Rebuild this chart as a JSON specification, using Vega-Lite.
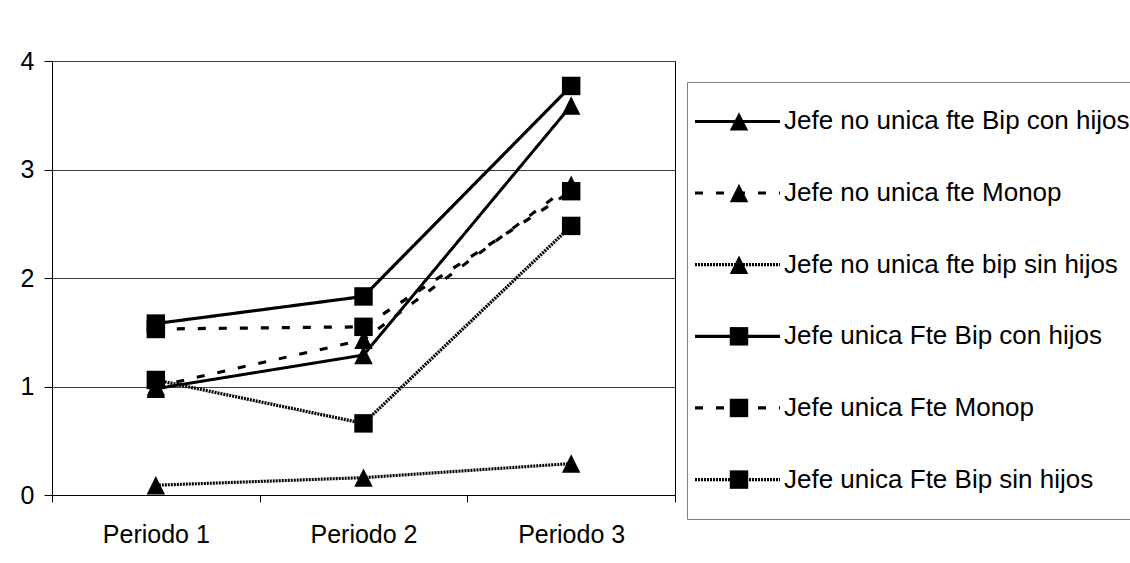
{
  "$schema": "https://vega.github.io/schema/vega-lite/v6.json",
  "padding": {"left": 19, "top": 48, "right": 0, "bottom": 0},
  "background": "white",
  "spacing": 10,
  "config": {
    "font": "Liberation Sans",
    "view": {"stroke": null},
    "axis": {"labelFont": "Liberation Sans", "labelFontSize": 25, "labelColor": "black", "domainColor": "black", "tickColor": "black", "gridColor": "#404040", "gridOpacity": 1, "title": null}
  },
  "datasets": {
    "main": [
      {"period": "Periodo 1", "series": "Jefe no unica fte Bip con hijos", "value": 0.98},
      {"period": "Periodo 2", "series": "Jefe no unica fte Bip con hijos", "value": 1.29},
      {"period": "Periodo 3", "series": "Jefe no unica fte Bip con hijos", "value": 3.59},
      {"period": "Periodo 1", "series": "Jefe no unica fte Monop", "value": 1.0},
      {"period": "Periodo 2", "series": "Jefe no unica fte Monop", "value": 1.43},
      {"period": "Periodo 3", "series": "Jefe no unica fte Monop", "value": 2.86},
      {"period": "Periodo 1", "series": "Jefe no unica fte bip sin hijos", "value": 0.09},
      {"period": "Periodo 2", "series": "Jefe no unica fte bip sin hijos", "value": 0.16},
      {"period": "Periodo 3", "series": "Jefe no unica fte bip sin hijos", "value": 0.29},
      {"period": "Periodo 1", "series": "Jefe unica Fte Bip con hijos", "value": 1.58},
      {"period": "Periodo 2", "series": "Jefe unica Fte Bip con hijos", "value": 1.83},
      {"period": "Periodo 3", "series": "Jefe unica Fte Bip con hijos", "value": 3.77},
      {"period": "Periodo 1", "series": "Jefe unica Fte Monop", "value": 1.53},
      {"period": "Periodo 2", "series": "Jefe unica Fte Monop", "value": 1.55},
      {"period": "Periodo 3", "series": "Jefe unica Fte Monop", "value": 2.8},
      {"period": "Periodo 1", "series": "Jefe unica Fte Bip sin hijos", "value": 1.06},
      {"period": "Periodo 2", "series": "Jefe unica Fte Bip sin hijos", "value": 0.66},
      {"period": "Periodo 3", "series": "Jefe unica Fte Bip sin hijos", "value": 2.48}
    ],
    "legend": [
      {"series": "Jefe no unica fte Bip con hijos"},
      {"series": "Jefe no unica fte Monop"},
      {"series": "Jefe no unica fte bip sin hijos"},
      {"series": "Jefe unica Fte Bip con hijos"},
      {"series": "Jefe unica Fte Monop"},
      {"series": "Jefe unica Fte Bip sin hijos"}
    ],
    "empty": []
  },
  "hconcat": [
    {
      "width": 623,
      "height": 434,
      "view": {"stroke": "black"},
      "data": {"name": "main"},
      "encoding": {
        "x": {"field": "period", "type": "nominal", "scale": {"type": "band", "paddingInner": 0, "paddingOuter": 0}, "axis": {"labelAngle": 0, "tickBand": "extent", "tickSize": 7, "labelPadding": 20, "grid": false, "title": null}},
        "y": {"field": "value", "type": "quantitative", "scale": {"domain": [0, 4], "nice": false}, "axis": {"values": [0, 1, 2, 3, 4], "tickSize": 8, "labelPadding": 10, "grid": true, "title": null}}
      },
      "layer": [
        {
          "mark": {"type": "line", "color": "black"},
          "encoding": {
            "strokeDash": {"field": "series", "type": "nominal", "scale": {"domain": ["Jefe no unica fte Bip con hijos", "Jefe no unica fte Monop", "Jefe no unica fte bip sin hijos", "Jefe unica Fte Bip con hijos", "Jefe unica Fte Monop", "Jefe unica Fte Bip sin hijos"], "range": [[1, 0], [8, 13], [2, 1], [1, 0], [8, 13], [2, 1]]}, "legend": null},
            "strokeWidth": {"field": "series", "type": "nominal", "scale": {"domain": ["Jefe no unica fte Bip con hijos", "Jefe no unica fte Monop", "Jefe no unica fte bip sin hijos", "Jefe unica Fte Bip con hijos", "Jefe unica Fte Monop", "Jefe unica Fte Bip sin hijos"], "range": [3, 3.3, 2.8, 3, 3.3, 2.8]}, "legend": null}
          }
        },
        {
          "mark": {"type": "point", "filled": true, "color": "black", "opacity": 1},
          "encoding": {
            "shape": {"field": "series", "type": "nominal", "scale": {"domain": ["Jefe no unica fte Bip con hijos", "Jefe no unica fte Monop", "Jefe no unica fte bip sin hijos", "Jefe unica Fte Bip con hijos", "Jefe unica Fte Monop", "Jefe unica Fte Bip sin hijos"], "range": ["M-1,1L0,-1L1,1Z", "M-1,1L0,-1L1,1Z", "M-1,1L0,-1L1,1Z", "square", "square", "square"]}, "legend": null},
            "size": {"field": "series", "type": "nominal", "scale": {"domain": ["Jefe no unica fte Bip con hijos", "Jefe no unica fte Monop", "Jefe no unica fte bip sin hijos", "Jefe unica Fte Bip con hijos", "Jefe unica Fte Monop", "Jefe unica Fte Bip sin hijos"], "range": [340, 340, 340, 576, 289, 310]}, "legend": null}
          }
        }
      ]
    },
    {
      "spacing": 10,
      "vconcat": [
        {
          "width": 444,
          "height": 10,
          "data": {"name": "empty"},
          "mark": {"type": "point", "opacity": 0},
          "encoding": {}
        },
        {
          "width": 444,
          "height": 437,
          "view": {"stroke": "#808080"},
          "data": {"name": "legend"},
          "encoding": {
            "y": {"field": "series", "type": "nominal", "scale": {"type": "point", "domain": ["Jefe no unica fte Bip con hijos", "Jefe no unica fte Monop", "Jefe no unica fte bip sin hijos", "Jefe unica Fte Bip con hijos", "Jefe unica Fte Monop", "Jefe unica Fte Bip sin hijos"], "padding": 0.55}, "axis": null}
          },
          "layer": [
            {
              "mark": {"type": "rule", "color": "black"},
              "encoding": {
                "x": {"datum": 8, "type": "quantitative", "scale": {"domain": [0, 444], "nice": false, "zero": false}, "axis": null},
                "x2": {"datum": 93},
                "strokeDash": {"field": "series", "type": "nominal", "scale": {"domain": ["Jefe no unica fte Bip con hijos", "Jefe no unica fte Monop", "Jefe no unica fte bip sin hijos", "Jefe unica Fte Bip con hijos", "Jefe unica Fte Monop", "Jefe unica Fte Bip sin hijos"], "range": [[1, 0], [8, 13], [2, 1], [1, 0], [8, 13], [2, 1]]}, "legend": null},
                "strokeWidth": {"field": "series", "type": "nominal", "scale": {"domain": ["Jefe no unica fte Bip con hijos", "Jefe no unica fte Monop", "Jefe no unica fte bip sin hijos", "Jefe unica Fte Bip con hijos", "Jefe unica Fte Monop", "Jefe unica Fte Bip sin hijos"], "range": [3, 3.3, 2.8, 3, 3.3, 2.8]}, "legend": null}
              }
            },
            {
              "mark": {"type": "point", "filled": true, "color": "black", "opacity": 1},
              "encoding": {
                "x": {"datum": 52, "type": "quantitative", "axis": null},
                "shape": {"field": "series", "type": "nominal", "scale": {"domain": ["Jefe no unica fte Bip con hijos", "Jefe no unica fte Monop", "Jefe no unica fte bip sin hijos", "Jefe unica Fte Bip con hijos", "Jefe unica Fte Monop", "Jefe unica Fte Bip sin hijos"], "range": ["M-1,1L0,-1L1,1Z", "M-1,1L0,-1L1,1Z", "M-1,1L0,-1L1,1Z", "square", "square", "square"]}, "legend": null},
                "size": {"field": "series", "type": "nominal", "scale": {"domain": ["Jefe no unica fte Bip con hijos", "Jefe no unica fte Monop", "Jefe no unica fte bip sin hijos", "Jefe unica Fte Bip con hijos", "Jefe unica Fte Monop", "Jefe unica Fte Bip sin hijos"], "range": [300, 300, 300, 530, 289, 289]}, "legend": null}
              }
            },
            {
              "mark": {"type": "text", "align": "left", "baseline": "middle", "fontSize": 26, "font": "Liberation Sans", "color": "black"},
              "encoding": {
                "x": {"datum": 97, "type": "quantitative", "axis": null},
                "text": {"field": "series"}
              }
            }
          ]
        }
      ]
    }
  ]
}
